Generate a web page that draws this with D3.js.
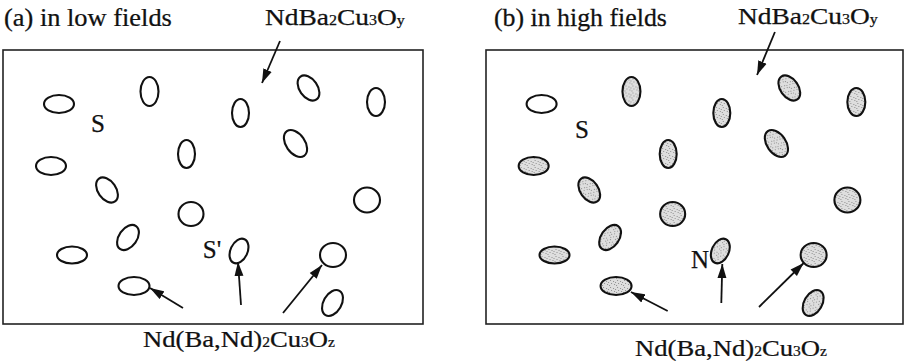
<!DOCTYPE html>
<html>
<head>
<meta charset="utf-8">
<script src="https://cdn.jsdelivr.net/npm/d3@7"></script>
<style>
  html, body { margin: 0; padding: 0; background: #fff; }
  svg { display: block; }
  text { fill: #111; stroke: #111; stroke-width: 0.25px; }
</style>
</head>
<body>
<svg id="fig" width="908" height="363"></svg>
<script>
// Precipitate particles inside each panel, in panel units (box = 420 x 274)
const particleX     = [56, 146.5, 237.5, 305.5, 373, 183.5, 292.5, 48, 104, 364, 188, 125, 69, 236, 330, 131, 329.5];
const particleY     = [54, 41.5, 63, 38, 52, 104, 93.5, 116, 140, 150, 164, 187.5, 205, 201, 205, 236, 253];
const particleRx    = [15, 9, 8.5, 9, 9, 8.5, 9.5, 15, 9, 13, 12.5, 9, 15, 8.5, 13, 15.5, 9];
const particleRy    = [9, 14.5, 14, 14, 14, 14, 15, 9, 14, 12.5, 12, 14, 8.5, 13, 12, 9, 14];
const particleAngle = [0, 0, 0, -35, 0, 0, -35, 0, -35, 0, 0, 35, 0, 25, 0, 0, 30];
// In high fields every particle but the first has gone normal
const particleNormalHigh = [false, true, true, true, true, true, true, true, true, true, true, true, true, true, true, true, true];

// Pointer arrows [x1, y1, x2, y2] per panel, panel units
const arrowsLow  = [[277, -9, 259, 33], [180, 258, 147, 238], [238, 255, 235, 212], [280, 263, 319, 215]];
const arrowsHigh = [[291, -18, 273, 25], [183, 261, 146, 242], [237, 253, 238, 214], [275, 257, 320, 213]];

// Text labels: [text, is subscript]
const panelTitles   = ["(a) in low fields", "(b) in high fields"];
const matrixLabel   = [["NdBa", false], ["2", true], ["Cu", false], ["3", true], ["O", false], ["y", true]];
const particleLabel = [["Nd(Ba,Nd)", false], ["2", true], ["Cu", false], ["3", true], ["O", false], ["z", true]];
const phaseMarksLow  = ["S", "S'"];
const phaseMarksHigh = ["S", "N"];

const FONT = "'Liberation Serif', 'Times New Roman', Times, serif";

const svg = d3.select("#fig");
const defs = svg.append("defs");

// arrowhead
defs.append("marker")
  .attr("id", "head")
  .attr("markerUnits", "userSpaceOnUse")
  .attr("viewBox", "0 -5 14 10")
  .attr("refX", 14).attr("refY", 0)
  .attr("markerWidth", 14).attr("markerHeight", 10)
  .attr("orient", "auto")
  .append("path").attr("d", "M0,-4.5L14,0L0,4.5Z").attr("fill", "#111");

// stippled grey for normal-state particles
const pat = defs.append("pattern")
  .attr("id", "stipple").attr("patternUnits", "userSpaceOnUse")
  .attr("width", 7).attr("height", 7);
pat.append("rect").attr("width", 7).attr("height", 7).attr("fill", "#dedede");
[[1, 1], [4, 2], [2, 4], [5, 5], [0, 6], [6, 3]].forEach(([px, py]) =>
  pat.append("rect").attr("x", px).attr("y", py).attr("width", 1).attr("height", 1).attr("fill", "#8f8f8f"));

const particles = particleX.map((x, i) => ({
  x, y: particleY[i], rx: particleRx[i], ry: particleRy[i], a: particleAngle[i], n: particleNormalHigh[i]
}));

// Stretch a text element horizontally to a given width, about its start x
function fit(t, x0, width) {
  const w = t.node().getComputedTextLength();
  const sx = width / w;
  t.attr("transform", `translate(${x0},0) scale(${sx},1) translate(${-x0},0)`);
}

function formula(g, parts, x, y, width) {
  const t = g.append("text").attr("x", x).attr("y", y)
    .attr("font-family", FONT).attr("font-size", 24);
  parts.forEach(([s, sub]) => {
    t.append("tspan").text(s).attr("font-size", sub ? 14 : 24);
  });
  fit(t, x, width);
  return t;
}

const panels = [
  { box: [3, 50, 423, 324], high: false, arrows: arrowsLow, marks: phaseMarksLow,
    title: [4, 26, 168], top: [265, 25, 140], bottom: [143, 347, 192],
    markPos: [[98, 132], [212, 258]] },
  { box: [486, 50, 903, 324], high: true, arrows: arrowsHigh, marks: phaseMarksHigh,
    title: [494, 26, 173], top: [738, 24, 140], bottom: [635, 356, 192],
    markPos: [[582, 138], [700, 268]] }
];

panels.forEach((p, pi) => {
  const [bx0, by0, bx1, by1] = p.box;
  const x = d3.scaleLinear().domain([0, 420]).range([bx0, bx1]);
  const y = d3.scaleLinear().domain([0, 274]).range([by0, by1]);
  const g = svg.append("g");

  g.append("rect")
    .attr("x", bx0).attr("y", by0).attr("width", bx1 - bx0).attr("height", by1 - by0)
    .attr("fill", "none").attr("stroke", "#222").attr("stroke-width", 1.6);

  g.selectAll("ellipse").data(particles).join("ellipse")
    .attr("cx", 0).attr("cy", 0)
    .attr("rx", d => d.rx).attr("ry", d => d.ry)
    .attr("transform", d => `translate(${x(d.x)},${y(d.y)}) rotate(${d.a})`)
    .attr("fill", d => (p.high && d.n) ? "url(#stipple)" : "#fff")
    .attr("stroke", "#111").attr("stroke-width", 2.1);

  g.selectAll("line.arrow").data(p.arrows).join("line")
    .attr("class", "arrow")
    .attr("x1", d => x(d[0])).attr("y1", d => y(d[1]))
    .attr("x2", d => x(d[2])).attr("y2", d => y(d[3]))
    .attr("stroke", "#111").attr("stroke-width", 1.8)
    .attr("marker-end", "url(#head)");

  const tt = g.append("text").attr("x", p.title[0]).attr("y", p.title[1])
    .attr("font-family", FONT).attr("font-size", 25).text(panelTitles[pi]);
  fit(tt, p.title[0], p.title[2]);

  formula(g, matrixLabel, p.top[0], p.top[1], p.top[2]);
  formula(g, particleLabel, p.bottom[0], p.bottom[1], p.bottom[2]);

  p.marks.forEach((m, mi) => {
    g.append("text").attr("x", p.markPos[mi][0]).attr("y", p.markPos[mi][1])
      .attr("text-anchor", "middle").attr("font-family", FONT).attr("font-size", 25).text(m);
  });
});
</script>
</body>
</html>
